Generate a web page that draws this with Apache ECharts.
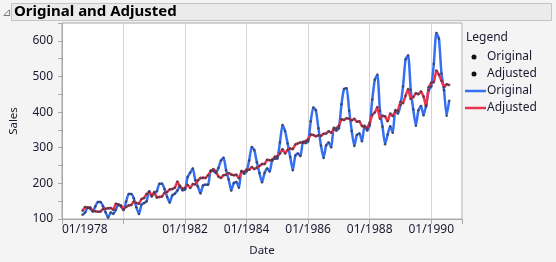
<!DOCTYPE html>
<html><head><meta charset="utf-8">
<script src="https://cdn.jsdelivr.net/npm/echarts@6/dist/echarts.min.js"></script>
<style>html,body{margin:0;padding:0;background:#f4f4f4;}#c{width:556px;height:262px;}</style>
</head><body><div id="c"></div>
<script>
// Monthly series, first point = Sep 1978
const startYear = 1978, startMonth = 9;
const original = [
112,118,132,129,121,135,148,148,136,119,104,118,
115,126,141,135,125,149,170,170,158,133,114,140,
145,150,178,163,172,178,199,199,184,162,146,166,
171,180,193,181,183,218,230,242,209,191,172,194,
196,196,236,235,229,243,264,272,237,211,180,201,
204,188,235,227,234,264,302,293,259,229,203,229,
242,233,267,269,270,315,364,347,312,274,237,278,
284,277,317,313,318,374,413,405,355,306,271,306,
315,301,356,348,355,422,465,467,404,347,305,336,
340,318,362,348,363,435,491,505,404,359,310,337,
360,342,406,396,420,472,548,559,463,407,362,405,
417,391,419,461,472,535,622,606,508,461,390,432];
const adjusted = [
123,134,131,132,123,122,120,121,128,129,130,131,
126,143,140,138,128,134,138,139,149,145,143,156,
159,170,176,166,176,160,162,163,174,176,183,184,
188,205,191,185,187,196,187,198,197,208,215,216,
215,223,234,240,234,219,215,223,224,229,225,223,
224,214,233,232,239,238,246,240,244,249,254,254,
266,265,264,275,276,284,296,284,294,298,296,309,
312,315,314,319,324,337,336,332,335,333,339,340,
346,342,352,355,362,380,378,383,381,377,381,373,
374,361,358,355,370,392,399,414,381,390,388,374,
396,389,402,404,429,425,446,465,437,442,453,450,
458,444,415,470,482,484,517,505,488,470,478,476];
const xTickYears = [1978,1980,1982,1984,1986,1988,1990];
const hiddenTickYears = [1980];
const yTicks = [100,200,300,400,500,600];

// x value = months since Jan 1978
const xs = original.map((_, i) => (startMonth - 1) + i);
const origData = original.map((v, i) => [xs[i], v]);
const adjData = adjusted.map((v, i) => [xs[i], v]);

const blue = '#3570f2', red = '#ea3450';
const font = 'Noto Sans';
const txt = '#1a1a30';
const chart = echarts.init(document.getElementById('c'), null, {renderer: 'canvas'});
chart.setOption({
  backgroundColor: '#f4f4f4',
  animation: false,
  grid: {left: 62, right: 94, top: 23, bottom: 39, show: true, backgroundColor: '#ffffff', borderColor: '#a8a8a8', borderWidth: 1},
  xAxis: {
    type: 'value', min: 0, max: 156, interval: 24,
    name: 'Date', nameLocation: 'middle', nameGap: 26,
    nameTextStyle: {fontFamily: font, fontSize: 11.5, color: txt},
    axisLine: {show: true, lineStyle: {color: '#a8a8a8'}},
    axisTick: {show: true, length: 5, lineStyle: {color: '#a8a8a8'}},
    splitLine: {show: true, lineStyle: {color: '#d4d4d4', width: 1}},
    axisLabel: {
      fontFamily: font, fontSize: 12, color: txt, margin: 5, alignMinLabel: 'left',
      formatter: v => {
        const y = startYear + v / 12;
        return (xTickYears.includes(y) && !hiddenTickYears.includes(y)) ? '01/' + y : '';
      }
    }
  },
  yAxis: {
    type: 'value', min: 100, max: 650, interval: 50,
    name: 'Sales', nameLocation: 'middle', nameGap: 42, nameRotate: 90,
    nameTextStyle: {fontFamily: font, fontSize: 11.5, color: txt},
    axisLine: {show: true, lineStyle: {color: '#a8a8a8'}},
    axisTick: {show: true, length: 4, lineStyle: {color: '#a8a8a8'}},
    splitLine: {show: false},
    axisLabel: {
      fontFamily: font, fontSize: 12, color: txt, margin: 9,
      formatter: v => yTicks.includes(v) ? String(v) : ''
    }
  },
  series: [
    {name: 'Original line', type: 'line', data: origData, showSymbol: false, smooth: 0.2,
     lineStyle: {color: blue, width: 2.5}, z: 2},
    {name: 'Adjusted line', type: 'line', data: adjData, showSymbol: false, smooth: false,
     lineStyle: {color: red, width: 2.5}, z: 3},
    {name: 'Original pts', type: 'scatter', data: origData, symbolSize: 2.5,
     itemStyle: {color: '#3a3a4a'}, z: 4},
    {name: 'Adjusted pts', type: 'scatter', data: adjData, symbolSize: 2.5,
     itemStyle: {color: '#3a3a4a'}, z: 4}
  ],
  graphic: [
    {type: 'rect', shape: {x: 11.5, y: 3.5, width: 540, height: 17}, style: {fill: '#ebebeb', stroke: '#c4c4c4', lineWidth: 1}},
    {type: 'text', x: 2, y: 13, style: {text: '\u22BF', font: '11px DejaVu Sans', fill: '#777', verticalAlign: 'middle'}},
    {type: 'text', x: 14, y: 12, style: {text: 'Original and Adjusted', font: 'bold 15px Noto Sans', fill: '#000', verticalAlign: 'middle'}},
    {type: 'text', x: 466, y: 38, style: {text: 'Legend', font: '12px Noto Sans', fill: txt, verticalAlign: 'middle'}},
    {type: 'circle', shape: {cx: 474, cy: 57, r: 2.5}, style: {fill: '#111'}},
    {type: 'text', x: 487, y: 57, style: {text: 'Original', font: '12px Noto Sans', fill: txt, verticalAlign: 'middle'}},
    {type: 'circle', shape: {cx: 474, cy: 74, r: 2.5}, style: {fill: '#111'}},
    {type: 'text', x: 487, y: 74, style: {text: 'Adjusted', font: '12px Noto Sans', fill: txt, verticalAlign: 'middle'}},
    {type: 'line', shape: {x1: 465, y1: 91, x2: 486, y2: 91}, style: {stroke: blue, lineWidth: 2.5}},
    {type: 'text', x: 487, y: 91, style: {text: 'Original', font: '12px Noto Sans', fill: txt, verticalAlign: 'middle'}},
    {type: 'line', shape: {x1: 465, y1: 108, x2: 486, y2: 108}, style: {stroke: red, lineWidth: 2.5}},
    {type: 'text', x: 487, y: 108, style: {text: 'Adjusted', font: '12px Noto Sans', fill: txt, verticalAlign: 'middle'}}
  ]
});
</script></body></html>
